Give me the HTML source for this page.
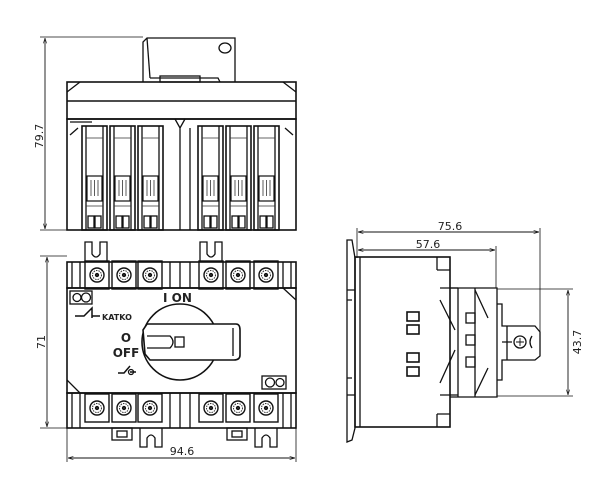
<!DOCTYPE html>
<html><head><meta charset="utf-8"><style>
html,body{margin:0;padding:0;background:#fff;}
svg{display:block;}
text{font-family:"DejaVu Sans","Liberation Sans",sans-serif;fill:#222;}
</style></head><body>
<svg width="600" height="488" viewBox="0 0 600 488" xmlns="http://www.w3.org/2000/svg">
<defs>
<marker id="a" viewBox="0 0 10 10" refX="10" refY="5" markerWidth="6" markerHeight="6" orient="auto-start-reverse"><path d="M0,2 L10,5 L0,8" fill="none" stroke="#222" stroke-width="1.2"/></marker>
<g id="pole">
<rect x="0" y="0" width="25" height="104" fill="none" stroke="#111" stroke-width="1.6"/>
<line x1="4" y1="0" x2="4" y2="104" stroke="#111"/>
<line x1="21" y1="0" x2="21" y2="104" stroke="#111"/>
<line x1="4" y1="12" x2="21" y2="12" stroke="#333" stroke-width="0.7"/>
<rect x="5" y="50" width="15" height="25" fill="none" stroke="#111" stroke-width="1.2"/>
<line x1="9" y1="54" x2="9" y2="70" stroke="#333" stroke-width="0.8"/>
<line x1="12.5" y1="54" x2="12.5" y2="70" stroke="#333" stroke-width="0.8"/>
<line x1="16" y1="54" x2="16" y2="70" stroke="#333" stroke-width="0.8"/>
<line x1="4" y1="80" x2="21" y2="80" stroke="#333" stroke-width="0.7"/>
<rect x="6" y="90" width="6" height="12" fill="none" stroke="#111"/>
<rect x="13" y="90" width="6" height="12" fill="none" stroke="#111"/>
</g>
<g id="term">
<rect x="-12" y="-14" width="24" height="28" fill="none" stroke="#111" stroke-width="1.4"/>
<circle r="7" fill="#fff" stroke="#111" stroke-width="1.4"/>
<circle r="4.5" fill="none" stroke="#333" stroke-width="1" stroke-dasharray="1.5 1"/>
<circle r="1.5" fill="#333"/>
</g>
</defs>
<g stroke="#111" fill="none" stroke-width="1.3">
<!-- TOP VIEW -->
<path d="M143,82 L143,42 L147,38 L235,38 L235,82"/>
<line x1="147" y1="38" x2="150" y2="78"/><path d="M150,78 L218,78 L220,82"/>
<rect x="160" y="76" width="40" height="6"/>
<ellipse cx="225" cy="48" rx="6" ry="5"/>
<rect x="67" y="82" width="229" height="37" stroke-width="1.6"/>
<line x1="67" y1="101" x2="296" y2="101" stroke-width="1.6"/>
<path d="M67,92 L80,82 M296,92 L283,82"/>
<rect x="67" y="119" width="229" height="111" stroke-width="1.6"/>
<path d="M70,122 L92,122 M70,135 L78,128 M293,135 L285,128 M175,119 L180,128 L185,119 M180,128 L180,230 M190,128 L190,230"/>
<use href="#pole" x="82" y="126"/><use href="#pole" x="110" y="126"/><use href="#pole" x="138" y="126"/>
<use href="#pole" x="198" y="126"/><use href="#pole" x="226" y="126"/><use href="#pole" x="254" y="126"/>
<line x1="40" y1="37" x2="143" y2="37" stroke-width="0.8"/>
<line x1="40" y1="230" x2="67" y2="230" stroke-width="0.8"/>
<line x1="45" y1="38" x2="45" y2="229" stroke-width="0.9" marker-start="url(#a)" marker-end="url(#a)"/>

<!-- FRONT VIEW -->
<path d="M85,262 L85,242 L92,242 L92,254 Q96,260 100,254 L100,242 L107,242 L107,262"/>
<path d="M200,262 L200,242 L207,242 L207,254 Q211,260 215,254 L215,242 L222,242 L222,262"/>
<rect x="67" y="262" width="229" height="26" stroke-width="1.6"/>
<g fill="#fff"><use href="#term" x="97" y="275"/><use href="#term" x="124" y="275"/><use href="#term" x="150" y="275"/>
<use href="#term" x="211" y="275"/><use href="#term" x="238" y="275"/><use href="#term" x="266" y="275"/></g>
<path d="M72,262 V288 M80,262 V288 M170,262 V288 M180,262 V288 M190,262 V288 M283,262 V288 M291,262 V288"/>
<rect x="67" y="288" width="229" height="105" stroke-width="1.6"/>
<path d="M67,380 L80,393 M283,288 L296,300"/>
<rect x="70" y="291" width="22" height="13"/><circle cx="77" cy="297.5" r="4"/><circle cx="86" cy="297.5" r="4.5"/>
<rect x="262" y="376" width="24" height="13"/><circle cx="270" cy="382.5" r="4.5"/><circle cx="280" cy="382.5" r="4"/>
<circle cx="180" cy="342" r="38" fill="#fff" stroke-width="1.6"/>
<path d="M143,330 L147,324 L236,324 Q240,324 240,330 L240,355 Q240,360 234,360 L150,360 L145,354 Z" fill="#fff" stroke-width="1.6"/>
<path d="M147,336 L170,336 Q176,342 170,348 L147,348"/>
<rect x="175" y="337" width="9" height="10"/>
<line x1="233" y1="328" x2="233" y2="356"/>
<rect x="67" y="393" width="229" height="35" stroke-width="1.6"/>
<g fill="#fff"><use href="#term" x="97" y="408"/><use href="#term" x="124" y="408"/><use href="#term" x="150" y="408"/>
<use href="#term" x="211" y="408"/><use href="#term" x="238" y="408"/><use href="#term" x="266" y="408"/></g>
<path d="M72,393 V428 M80,393 V428 M170,393 V428 M180,393 V428 M190,393 V428 M283,393 V428 M291,393 V428"/>
<path d="M140,428 L140,447 L147,447 L147,438 Q151,432 155,438 L155,447 L162,447 L162,428"/>
<path d="M255,428 L255,447 L262,447 L262,438 Q266,432 270,438 L270,447 L277,447 L277,428"/>
<rect x="112" y="428" width="20" height="12"/><rect x="117" y="431" width="10" height="6"/>
<rect x="227" y="428" width="20" height="12"/><rect x="232" y="431" width="10" height="6"/>
<line x1="40" y1="256" x2="67" y2="256" stroke-width="0.8"/>
<line x1="40" y1="428" x2="67" y2="428" stroke-width="0.8"/>
<line x1="47" y1="257" x2="47" y2="427" stroke-width="0.9" marker-start="url(#a)" marker-end="url(#a)"/>
<line x1="67" y1="428" x2="67" y2="462" stroke-width="0.8"/>
<line x1="296" y1="428" x2="296" y2="462" stroke-width="0.8"/>
<line x1="68" y1="458" x2="295" y2="458" stroke-width="0.9" marker-start="url(#a)" marker-end="url(#a)"/>
<path d="M75,316 L84,316 L92,308 L92,316 L100,316 M92,316 L92,318" stroke-width="1.5"/>
<path d="M118,373 L124,373 L130,366 M130,372 L136,372" stroke-width="1.5"/><circle cx="131" cy="372" r="2.5"/>

<!-- SIDE VIEW -->
<path d="M347,240 L352,240 L355,258 L355,428 L352,440 L347,442 Z"/>
<path d="M347,290 L355,290 M347,300 L352,300 M347,378 L352,378 M347,395 L355,395"/>
<rect x="355" y="257" width="95" height="170" stroke-width="1.6"/>
<path d="M360,257 V427 M437,257 V270 M437,414 V427 M437,270 H450 M437,414 H450"/>
<path d="M440,288 L458,288 M440,395 L458,395 M440,300 L455,330 M440,383 L455,350"/>
<path d="M450,288 L497,288 L497,397 L450,397"/>
<line x1="458" y1="288" x2="458" y2="397"/><line x1="475" y1="288" x2="475" y2="397"/>
<path d="M475,290 L488,318 M475,395 L488,368"/>
<rect x="466" y="313" width="9" height="10"/><rect x="466" y="335" width="9" height="10"/><rect x="466" y="357" width="9" height="10"/>
<path d="M497,304 L502,304 L502,326 L535,326 L540,332 L540,356 L535,360 L502,360 L502,380 L497,380"/>
<path d="M507,326 V360 M502,342 H512"/>
<circle cx="520" cy="342" r="6"/><path d="M516,342 H524 M520,338 V346" stroke-width="0.9"/>
<path d="M532,336 Q528,342 532,348"/>
<g stroke-width="1.6"><rect x="407" y="312" width="12" height="9"/><rect x="407" y="325" width="12" height="9"/>
<rect x="407" y="353" width="12" height="9"/><rect x="407" y="367" width="12" height="9"/></g>
<line x1="357" y1="228" x2="357" y2="258" stroke-width="0.8"/>
<line x1="540" y1="228" x2="540" y2="332" stroke-width="0.8"/>
<line x1="496" y1="246" x2="496" y2="288" stroke-width="0.8"/>
<line x1="358" y1="232" x2="539" y2="232" stroke-width="0.9" marker-start="url(#a)" marker-end="url(#a)"/>
<line x1="358" y1="250" x2="495" y2="250" stroke-width="0.9" marker-start="url(#a)" marker-end="url(#a)"/>
<line x1="497" y1="289" x2="573" y2="289" stroke-width="0.8"/>
<line x1="497" y1="396" x2="573" y2="396" stroke-width="0.8"/>
<line x1="568" y1="290" x2="568" y2="395" stroke-width="0.9" marker-start="url(#a)" marker-end="url(#a)"/>
</g>
<g font-size="11">
<text x="0" y="0" transform="translate(43,136) rotate(-90)" text-anchor="middle">79.7</text>
<text x="0" y="0" transform="translate(45,342) rotate(-90)" text-anchor="middle">71</text>
<text x="182" y="455" text-anchor="middle">94.6</text>
<text x="450" y="230" text-anchor="middle">75.6</text>
<text x="428" y="248" text-anchor="middle">57.6</text>
<text x="0" y="0" transform="translate(581,342) rotate(-90)" text-anchor="middle">43.7</text>
<text x="163" y="302" font-size="12" font-weight="bold">I  ON</text>
<text x="126" y="342" font-size="12" font-weight="bold" text-anchor="middle">O</text>
<text x="126" y="357" font-size="12" font-weight="bold" text-anchor="middle">OFF</text>
<text x="102" y="320" font-size="8" font-weight="bold">KATKO</text>
</g>
</svg>
</body></html>
